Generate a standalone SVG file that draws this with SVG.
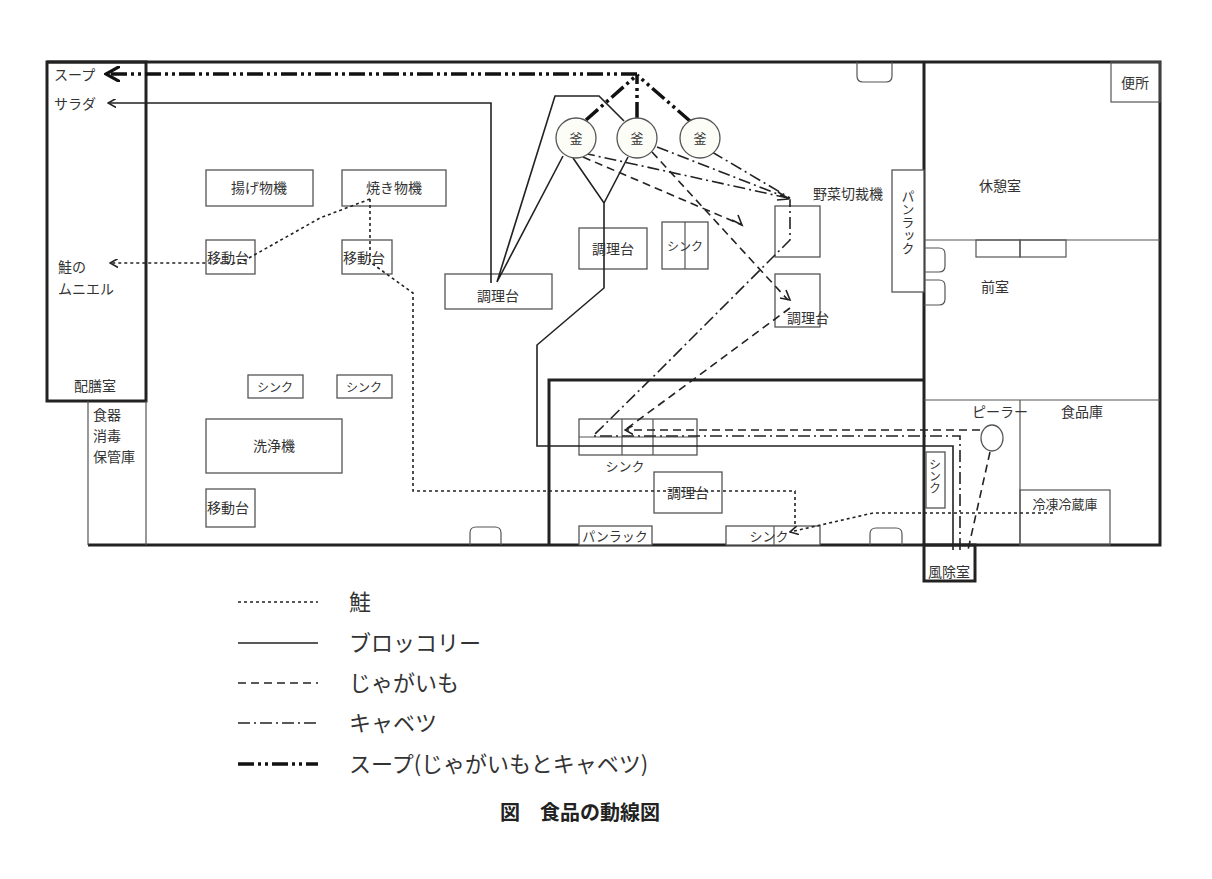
<svg xmlns="http://www.w3.org/2000/svg" width="1212" height="879" viewBox="0 0 1212 879">
<style>
text{font-family:"Noto Sans CJK JP",sans-serif;fill:#333;font-size:14px}
.s12{font-size:12px}.s13{font-size:13px}
.w{fill:none;stroke:#222;stroke-width:3}
.t{fill:none;stroke:#555;stroke-width:1.2}
.eq{fill:#fff;stroke:#555;stroke-width:1.3}
.salmon{fill:none;stroke:#222;stroke-width:1.6;stroke-dasharray:3 3}
.broc{fill:none;stroke:#222;stroke-width:1.6}
.pot{fill:none;stroke:#222;stroke-width:1.6;stroke-dasharray:8 5}
.cab{fill:none;stroke:#222;stroke-width:1.6;stroke-dasharray:12 4 2 4}
.soup{fill:none;stroke:#111;stroke-width:3.5;stroke-dasharray:16 4 3 4 3 4}
.ch{fill:none;stroke:#222;stroke-width:1.6}
.leg{font-size:22px}
.title{font-size:20px;font-weight:bold;fill:#222}
</style>
<defs>
<marker id="ah" viewBox="0 0 10 10" refX="9" refY="5" markerWidth="9" markerHeight="9" markerUnits="userSpaceOnUse" orient="auto"><path d="M0,0 L9,5 L0,10" fill="none" stroke="#222" stroke-width="1.8"/></marker>
<marker id="ahb" viewBox="0 0 10 10" refX="9" refY="5" markerWidth="16" markerHeight="16" markerUnits="userSpaceOnUse" orient="auto"><path d="M0,0 L9,5 L0,10" fill="none" stroke="#111" stroke-width="2"/></marker>
</defs>
<rect width="1212" height="879" fill="#fff"/>
<g id="walls">
<path class="w" d="M47,62 H1160 V545 H88"/>
<rect class="w" x="47" y="62" width="99" height="339"/>
<path class="w" d="M924,62 V545"/>
<path class="w" d="M549,545 V380 H924"/>
<rect class="w" x="924" y="545" width="51" height="36"/>
<path class="t" d="M88,401 V545 M146,401 V545"/>
<path class="t" d="M924,240 H1160 M924,400 H1160 M1020,400 V545"/>
<rect class="t" x="1111" y="62" width="49" height="40"/>
<path class="t" d="M857,62 V76 q0,6 6,6 h23 q6,0 6,-6 V62"/>
<path class="t" d="M870,545 V534 q0,-6 6,-6 h20 q6,0 6,6 V545"/>
<path class="t" d="M470,545 V533 q0,-6 6,-6 h19 q6,0 6,6 V545"/>
<path class="t" d="M924,248 h15 q6,0 6,6 v12 q0,6 -6,6 h-15 M924,280 h15 q6,0 6,6 v13 q0,6 -6,6 h-15"/>
<rect class="t" x="976" y="240" width="44" height="17"/>
<rect class="t" x="1020" y="240" width="46" height="17"/>
<rect class="t" x="1020" y="490" width="90" height="55"/>
</g>
<g id="equipment">
<rect class="eq" x="206" y="170" width="107" height="36"/>
<rect class="eq" x="342" y="170" width="104" height="36"/>
<rect class="eq" x="206" y="240" width="49" height="34"/>
<rect class="eq" x="342" y="240" width="50" height="34"/>
<rect class="eq" x="445" y="274" width="107" height="35"/>
<rect class="eq" x="579" y="228" width="68" height="41"/>
<rect class="eq" x="662" y="222" width="46" height="47"/><path class="t" d="M685,222 V269"/>
<rect class="eq" x="775" y="206" width="45" height="51"/>
<rect class="eq" x="775" y="274" width="45" height="53"/>
<rect class="eq" x="892" y="170" width="32" height="122"/>
<rect class="eq" x="248" y="375" width="55" height="23"/>
<rect class="eq" x="337" y="375" width="55" height="23"/>
<rect class="eq" x="206" y="419" width="136" height="54"/>
<rect class="eq" x="206" y="489" width="49" height="38"/>
<rect class="eq" x="579" y="419" width="118" height="36"/><path class="t" d="M622,419 V455 M653,419 V455 M579,437 H697"/>
<rect class="eq" x="654" y="472" width="68" height="41"/>
<rect class="eq" x="579" y="526" width="73" height="19"/>
<rect class="eq" x="726" y="526" width="94" height="19"/><path class="t" d="M774,526 V545"/>
<rect class="eq" x="926" y="452" width="19" height="56"/>
<ellipse class="eq" cx="992" cy="438" rx="11" ry="13"/>
</g>
<g id="connectors">
<path class="soup" d="M586,120 L637,75 M637,118 V75 M690,121 L637,75 M637,74 H106" marker-end="url(#ahb)"/>
<path class="broc" d="M491,283 V103 H108" marker-end="url(#ah)"/>
<path class="broc" d="M497,282 L555,96 H599 L624,121 M497,282 L563,156 M573,158 L604,203 L628,157 M953,550 V446 H537 V345 L604,288 V203"/>
<path class="pot" d="M990,452 L968,550 M980,430 H625" marker-end="url(#ah)"/>
<path class="pot" d="M790,308 L625,430 M652,152 L788,300 M583,157 L742,225"/>
<path class="ch" d="M780,298 L790,300 L786,290 M732,220 L742,225 L738,215"/>
<path class="cab" d="M960,550 V436 H593 L660,370 L790,240 V200 M583,153 L788,198 M657,147 L788,198 M712,152 L790,198"/>
<path class="ch" d="M778,192 L789,199 L777,200"/>
<path class="salmon" d="M370,199 L320,218 L240,263 H110" marker-end="url(#ah)"/>
<path class="salmon" d="M370,199 V262 L413,293 V491 H795 V527"/>
<path class="salmon" d="M1053,513 H873 L790,532" marker-end="url(#ah)"/>
</g>
<g id="kettles">
<circle class="eq" cx="576" cy="138" r="20" style="fill:#fdfdf8"/>
<circle class="eq" cx="637" cy="138" r="20" style="fill:#fdfdf8"/>
<circle class="eq" cx="700" cy="138" r="20" style="fill:#fdfdf8"/>
<text x="576" y="143" text-anchor="middle" class="s13">釜</text>
<text x="637" y="143" text-anchor="middle" class="s13">釜</text>
<text x="700" y="143" text-anchor="middle" class="s13">釜</text>
</g>
<g id="labels">
<text x="54" y="80">スープ</text>
<text x="54" y="109">サラダ</text>
<text x="58" y="272">鮭の</text>
<text x="58" y="294">ムニエル</text>
<text x="74" y="391">配膳室</text>
<text x="93" y="420">食器</text>
<text x="93" y="441">消毒</text>
<text x="93" y="462">保管庫</text>
<text x="259" y="193" text-anchor="middle">揚げ物機</text>
<text x="394" y="193" text-anchor="middle">焼き物機</text>
<text x="207" y="263">移動台</text>
<text x="343" y="263">移動台</text>
<text x="207" y="513">移動台</text>
<text x="498" y="301" text-anchor="middle">調理台</text>
<text x="613" y="254" text-anchor="middle">調理台</text>
<text x="685" y="251" text-anchor="middle" class="s12">シンク</text>
<text x="848" y="199" text-anchor="middle">野菜切裁機</text>
<text x="808" y="323" text-anchor="middle">調理台</text>
<text x="908" y="190" class="s13" writing-mode="tb">パンラック</text>
<text x="275" y="392" text-anchor="middle" class="s12">シンク</text>
<text x="364" y="392" text-anchor="middle" class="s12">シンク</text>
<text x="274" y="451" text-anchor="middle">洗浄機</text>
<text x="625" y="471" text-anchor="middle" class="s13">シンク</text>
<text x="688" y="498" text-anchor="middle">調理台</text>
<text x="615" y="541" text-anchor="middle" class="s13">パンラック</text>
<text x="769" y="541" text-anchor="middle" class="s13">シンク</text>
<text x="935" y="458" class="s12" writing-mode="tb">シンク</text>
<text x="949" y="577" text-anchor="middle">風除室</text>
<text x="1000" y="417" text-anchor="middle">ピーラー</text>
<text x="1082" y="417" text-anchor="middle">食品庫</text>
<text x="1065" y="509" text-anchor="middle" class="s13">冷凍冷蔵庫</text>
<text x="1135" y="88" text-anchor="middle">便所</text>
<text x="1000" y="191" text-anchor="middle">休憩室</text>
<text x="995" y="292" text-anchor="middle">前室</text>
</g>
<g id="legend">
<path class="salmon" d="M238,602 H318"/>
<path class="broc" d="M238,643 H318"/>
<path class="pot" d="M238,683 H318"/>
<path class="cab" d="M238,723 H318"/>
<path class="soup" d="M238,764 H318"/>
<text class="leg" x="349" y="610">鮭</text>
<text class="leg" x="349" y="651">ブロッコリー</text>
<text class="leg" x="349" y="691">じゃがいも</text>
<text class="leg" x="349" y="731">キャベツ</text>
<text class="leg" x="349" y="772">スープ(じゃがいもとキャベツ)</text>
<text class="title" x="500" y="820">図　食品の動線図</text>
</g>
</svg>
